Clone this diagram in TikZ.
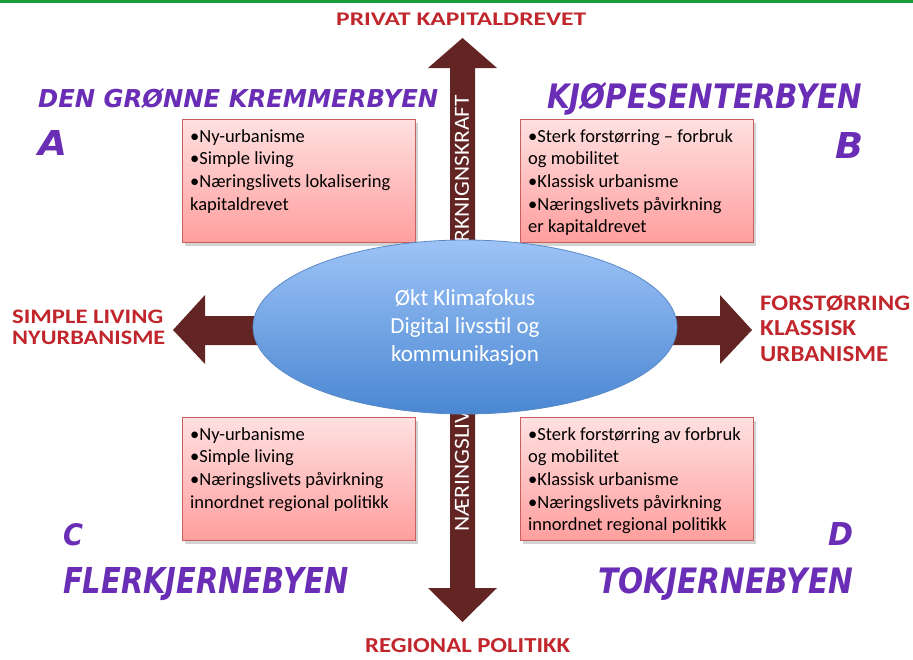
\documentclass[tikz,border=0pt]{standalone}
\usepackage{fontspec}
\setmainfont{Carlito}
\newfontfamily\headfont{DejaVu Sans}
\usetikzlibrary{shapes.geometric,shadows}
\definecolor{arrowc}{HTML}{632523}
\definecolor{boxborder}{HTML}{C9605D}
\definecolor{boxtop}{HTML}{FFE0E0}
\definecolor{boxbot}{HTML}{FF9E9E}
\definecolor{elltop}{HTML}{9DC3F7}
\definecolor{ellbot}{HTML}{4A87D2}
\definecolor{ellborder}{HTML}{5A8AC6}
\definecolor{headc}{HTML}{6A2DB5}
\definecolor{redc}{HTML}{C0262C}
\definecolor{greenbar}{HTML}{1A9A3A}
\newcommand\rsz[3]{\resizebox{#1pt}{#2pt}{#3}}
\tikzset{
  heading/.style={anchor=north west, inner sep=0pt, text=headc, font=\headfont\bfseries\itshape},
  redlabel/.style={anchor=north west, inner sep=0pt, text=redc, font=\bfseries},
  quad/.style={draw=boxborder, line width=1pt, top color=boxtop, bottom color=boxbot,
    anchor=north west, inner sep=0pt, minimum width=233pt, minimum height=123pt,
    drop shadow={shadow xshift=2pt, shadow yshift=-3pt, opacity=0.35}},
  boxtext/.style={anchor=north west, inner sep=0pt, align=left, xshift=8pt, yshift=-7.2pt,
    font=\fontsize{18.5}{22.6}\selectfont},
  axistext/.style={inner sep=0pt, text=white, rotate=90},
}
\begin{document}
\begin{tikzpicture}[x=1pt,y=-1pt]
\useasboundingbox (0,0) rectangle (913,659);
\fill[greenbar] (0,0) rectangle (913,2.5);

% block arrows
\fill[arrowc] (450,68) -- (428,68) -- (462.5,38) -- (497,68) -- (475,68) -- (475,588)
  -- (497,588) -- (462.5,622) -- (428,588) -- (450,588) -- cycle;
\fill[arrowc] (320,316) -- (205,316) -- (205,295) -- (173,330) -- (205,364) -- (205,345) -- (320,345) -- cycle;
\fill[arrowc] (610,316) -- (720,316) -- (720,295) -- (752,330) -- (720,364) -- (720,345) -- (610,345) -- cycle;

% text in vertical arrow
\node[axistext, anchor=west] (axlow) at (462,532) {\rsz{122}{14}{NÆRINGSLIV}};
\node[axistext, anchor=east] (axhigh) at (462,95) {\rsz{147}{14}{RKNIGNSKRAFT}};

% boxes
\node[quad] (boxA) at (182,119) {};
\node[quad] (boxB) at (520,119) {};
\node[quad] (boxC) at (182,417) {};
\node[quad] (boxD) at (520,417) {};
\node[boxtext] (txtA) at (boxA.north west) {\strut•Ny-urbanisme\\•Simple living\\•Næringslivets lokalisering\\kapitaldrevet};
\node[boxtext] (txtB) at (boxB.north west) {\strut•Sterk forstørring – forbruk\\og mobilitet\\•Klassisk urbanisme\\•Næringslivets påvirkning\\er kapitaldrevet};
\node[boxtext] (txtC) at (boxC.north west) {\strut•Ny-urbanisme\\•Simple living\\•Næringslivets påvirkning\\innordnet regional politikk};
\node[boxtext] (txtD) at (boxD.north west) {\strut•Sterk forstørring av forbruk\\og mobilitet\\•Klassisk urbanisme\\•Næringslivets påvirkning\\innordnet regional politikk};

% central ellipse
\node[ellipse, draw=ellborder, line width=0.8pt, top color=elltop, bottom color=ellbot,
  minimum width=424pt, minimum height=174pt, inner sep=0pt, text=white, align=center,
  font=\fontsize{23}{28}\selectfont] (center) at (465,327)
  {Økt Klimafokus\\Digital livsstil og\\kommunikasjon};

% headings
\node[heading] (hA) at (38,88) {\rsz{400}{19}{DEN GRØNNE KREMMERBYEN}};
\node[heading] (lA) at (38,130) {\rsz{29}{25}{A}};
\node[heading] (hB) at (547,82) {\rsz{315}{26}{KJØPESENTERBYEN}};
\node[heading] (lB) at (835,132) {\rsz{28}{26}{B}};
\node[heading] (lC) at (63,523) {\rsz{20}{22}{C}};
\node[heading] (hC) at (63,567) {\rsz{285}{26}{FLERKJERNEBYEN}};
\node[heading] (lD) at (828,522) {\rsz{25}{23}{D}};
\node[heading] (hD) at (598,567) {\rsz{255}{26}{TOKJERNEBYEN}};

% red axis labels
\node[redlabel] (top) at (336,13) {\rsz{250}{12.5}{PRIVAT KAPITALDREVET}};
\node[redlabel] (left1) at (12,310) {\rsz{151}{13.5}{SIMPLE LIVING}};
\node[redlabel] (left2) at (12,331) {\rsz{153}{13.5}{NYURBANISME}};
\node[redlabel] (right1) at (760,295) {\rsz{150}{15}{FORSTØRRING}};
\node[redlabel] (right2) at (760,320) {\rsz{96}{15}{KLASSISK}};
\node[redlabel] (right3) at (760,346) {\rsz{128}{15}{URBANISME}};
\node[redlabel] (bottom) at (365,638) {\rsz{205}{14}{REGIONAL POLITIKK}};
\end{tikzpicture}
\end{document}
